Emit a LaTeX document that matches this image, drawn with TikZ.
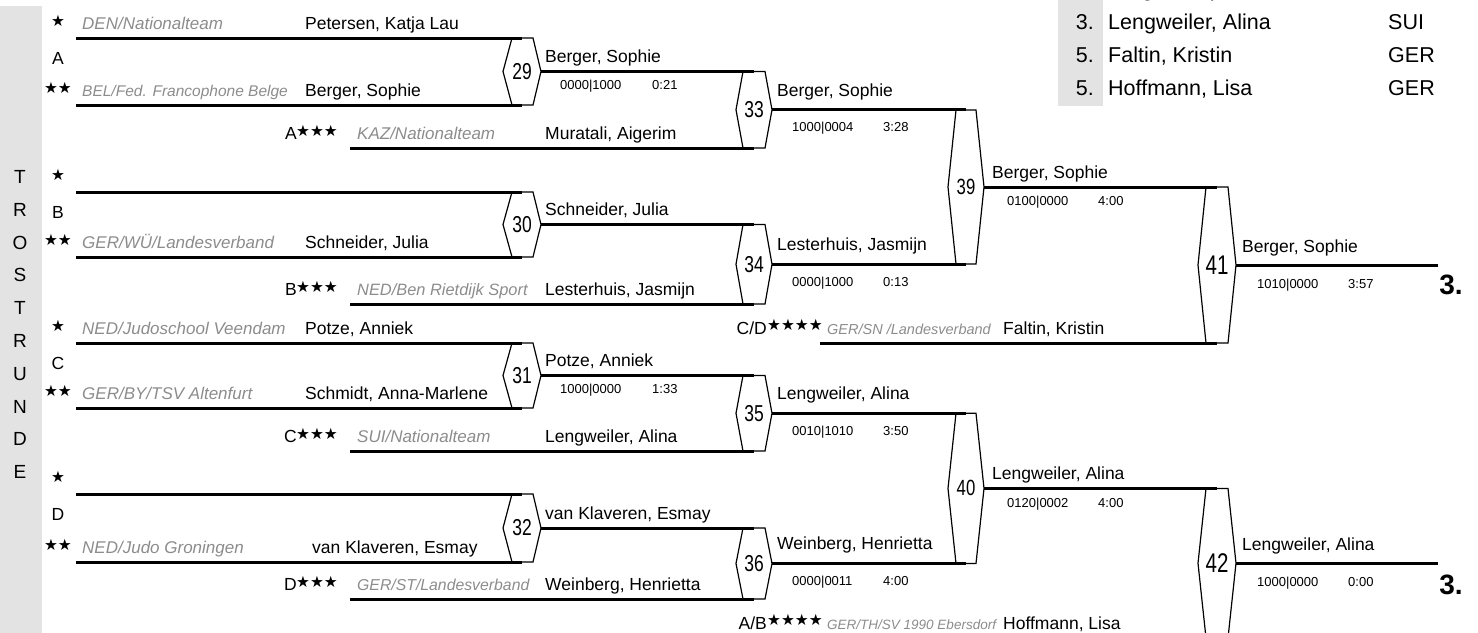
\documentclass[tikz,border=0pt]{standalone}
\usepackage{fontspec}
\setmainfont{Liberation Sans}
\newfontfamily\starfont{DejaVu Sans}
\newfontfamily\numfont[FakeStretch=0.76]{Liberation Sans}
\definecolor{clubgray}{RGB}{140,140,140}
\definecolor{bargray}{RGB}{227,227,227}
\begin{document}
\begin{tikzpicture}[x=1pt,y=-1pt,
pl/.style={line width=3pt},
hex/.style={line width=1.2pt},
pname/.style={anchor=base west,inner sep=0pt,font=\fontsize{17.5}{21}\selectfont},
club/.style={anchor=base west,inner sep=0pt,text=clubgray,font=\fontsize{17}{21}\selectfont\itshape},
score/.style={anchor=base west,inner sep=0pt,font=\fontsize{13}{15}\selectfont},
num/.style={inner sep=0pt,font=\numfont\fontsize{23}{23}\selectfont},
stars/.style={inner sep=0pt,font=\starfont\fontsize{15.5}{15.5}\selectfont},
grp/.style={inner sep=0pt,font=\fontsize{17.5}{21}\selectfont},
tab/.style={anchor=base west,inner sep=0pt,font=\fontsize{21.5}{25}\selectfont}]
\useasboundingbox (0,0) rectangle (1478,632);
\clip (0,0) rectangle (1478,632);
\fill[bargray] (0,6) rectangle (42,640);
\node(trost) at (20,324.5) [align=center,inner sep=0pt,font=\fontsize{19}{32.8}\selectfont]{T\\R\\O\\S\\T\\R\\U\\N\\D\\E};
\fill[bargray] (1058,-20) rectangle (1103,106);
\node(t0) at (1108,-3.3) [tab]{Berger, Sophie};
\node(t1p) at (1094,29.7) [tab,anchor=base east]{3.};
\node(t1) at (1108,29.7) [tab]{Lengweiler, Alina};
\node(t1n) at (1388,29.7) [tab]{SUI};
\node(t2p) at (1094,62.7) [tab,anchor=base east]{5.};
\node(t2) at (1108,62.7) [tab]{Faltin, Kristin};
\node(t2n) at (1388,62.7) [tab]{GER};
\node(t3p) at (1094,95.7) [tab,anchor=base east]{5.};
\node(t3) at (1108,95.7) [tab]{Hoffmann, Lisa};
\node(t3n) at (1388,95.7) [tab]{GER};
\coordinate(l1) at (76,38);
\coordinate(l2) at (76,105);
\coordinate(l3) at (76,192);
\coordinate(l4) at (76,257);
\coordinate(l5) at (76,343);
\coordinate(l6) at (76,408);
\coordinate(l7) at (76,494);
\coordinate(l8) at (76,562);
\coordinate(k1) at (350,148);
\coordinate(k2) at (350,304);
\coordinate(k3) at (350,451);
\coordinate(k4) at (350,599);
\coordinate(q1) at (820,343);
\coordinate(q2) at (820,638);
\coordinate(f1) at (1438,265);
\node(29) at (522,71.5) [num]{29};
\node(30) at (522,224.5) [num]{30};
\node(31) at (522,375.5) [num]{31};
\node(32) at (522,528) [num]{32};
\node(33) at (754,109.75) [num]{33};
\node(34) at (754,264.25) [num]{34};
\node(35) at (754,413.25) [num]{35};
\node(36) at (754,563.5) [num]{36};
\node(39) at (966,187) [num,font=\numfont\fontsize{22}{22}\selectfont]{39};
\node(40) at (966,488.4) [num,font=\numfont\fontsize{22}{22}\selectfont]{40};
\node(41) at (1217,265) [num,font=\numfont\fontsize{27}{27}\selectfont]{41};
\node(42) at (1217,563.2) [num,font=\numfont\fontsize{27}{27}\selectfont]{42};
\draw[pl] (l1) -- (l1 -| 29);
\draw[pl] (l2) -- (l2 -| 29);
\draw[pl] (l3) -- (l3 -| 30);
\draw[pl] (l4) -- (l4 -| 30);
\draw[pl] (l5) -- (l5 -| 31);
\draw[pl] (l6) -- (l6 -| 31);
\draw[pl] (l7) -- (l7 -| 32);
\draw[pl] (l8) -- (l8 -| 32);
\draw[pl] (k1) -- (k1 -| 33);
\draw[pl] (k2) -- (k2 -| 34);
\draw[pl] (k3) -- (k3 -| 35);
\draw[pl] (k4) -- (k4 -| 36);
\draw[pl] (q1) -- (q1 -| 41);
\draw[pl] (q2) -- (q2 -| 42);
\draw[pl] (29) ++(19,0) -- (29 -| 33);
\draw[pl] (30) ++(19,0) -- (30 -| 34);
\draw[pl] (31) ++(19,0) -- (31 -| 35);
\draw[pl] (32) ++(19,0) -- (32 -| 36);
\draw[pl] (33) ++(18,0) -- (33 -| 39);
\draw[pl] (34) ++(18,0) -- (34 -| 39);
\draw[pl] (35) ++(18,0) -- (35 -| 40);
\draw[pl] (36) ++(18,0) -- (36 -| 40);
\draw[pl] (39) ++(18,0) -- (39 -| 41);
\draw[pl] (40) ++(18,0) -- (40 -| 42);
\draw[pl] (41) ++(19,0) -- (41 -| f1);
\draw[pl] (42) ++(19,0) -- (42 -| f1);
\draw[hex] (29) ++(-10,-33.5) -- ++(21,0) -- ++(8,33.5) -- ++(-8,33.5) -- ++(-21,0) -- ++(-9,-33.5) -- cycle;
\draw[hex] (30) ++(-10,-32.5) -- ++(21,0) -- ++(8,32.5) -- ++(-8,32.5) -- ++(-21,0) -- ++(-9,-32.5) -- cycle;
\draw[hex] (31) ++(-10,-32.5) -- ++(21,0) -- ++(8,32.5) -- ++(-8,32.5) -- ++(-21,0) -- ++(-9,-32.5) -- cycle;
\draw[hex] (32) ++(-10,-34) -- ++(21,0) -- ++(8,34) -- ++(-8,34) -- ++(-21,0) -- ++(-9,-34) -- cycle;
\draw[hex] (33) ++(-11,-38.25) -- ++(22,0) -- ++(7,38.25) -- ++(-7,38.25) -- ++(-22,0) -- ++(-7,-38.25) -- cycle;
\draw[hex] (34) ++(-11,-39.75) -- ++(22,0) -- ++(7,39.75) -- ++(-7,39.75) -- ++(-22,0) -- ++(-7,-39.75) -- cycle;
\draw[hex] (35) ++(-11,-37.75) -- ++(22,0) -- ++(7,37.75) -- ++(-7,37.75) -- ++(-22,0) -- ++(-7,-37.75) -- cycle;
\draw[hex] (36) ++(-11,-35.5) -- ++(22,0) -- ++(7,35.5) -- ++(-7,35.5) -- ++(-22,0) -- ++(-7,-35.5) -- cycle;
\draw[hex] (39) ++(-10,-77) -- ++(20,0) -- ++(8,77) -- ++(-8,77) -- ++(-20,0) -- ++(-8,-77) -- cycle;
\draw[hex] (40) ++(-10,-75.1) -- ++(20,0) -- ++(8,75.1) -- ++(-8,75.1) -- ++(-20,0) -- ++(-8,-75.1) -- cycle;
\draw[hex] (41) ++(-11,-78) -- ++(22,0) -- ++(8,78) -- ++(-8,78) -- ++(-22,0) -- ++(-8,-78) -- cycle;
\draw[hex] (42) ++(-11,-74.8) -- ++(22,0) -- ++(8,74.8) -- ++(-8,74.8) -- ++(-22,0) -- ++(-8,-74.8) -- cycle;
\node(s1) at (58,21) [stars]{★};
\node(s2) at (58,88) [stars]{★★};
\node(s3) at (58,175) [stars]{★};
\node(s4) at (58,240) [stars]{★★};
\node(s5) at (58,326) [stars]{★};
\node(s6) at (58,391) [stars]{★★};
\node(s7) at (58,477) [stars]{★};
\node(s8) at (58,545) [stars]{★★};
\node(ga) at (58,58) [grp]{A};
\node(gb) at (58,212) [grp]{B};
\node(gc) at (58,363) [grp]{C};
\node(gd) at (58,514) [grp]{D};
\node(c1) at (82,29.3) [club]{DEN/Nationalteam};
\node(n1) at (305,29.3) [pname]{Petersen, Katja Lau};
\node(c2) at (82,96.3) [club,font=\fontsize{15.5}{19}\selectfont\itshape]{BEL/Fed. Francophone Belge};
\node(n2) at (305,96.3) [pname]{Berger, Sophie};
\node(c4) at (82,248.3) [club]{GER/WÜ/Landesverband};
\node(n4) at (305,248.3) [pname]{Schneider, Julia};
\node(c5) at (82,334.3) [club]{NED/Judoschool Veendam};
\node(n5) at (305,334.3) [pname]{Potze, Anniek};
\node(c6) at (82,399.3) [club]{GER/BY/TSV Altenfurt};
\node(n6) at (305,399.3) [pname]{Schmidt, Anna-Marlene};
\node(c8) at (82,553.3) [club]{NED/Judo Groningen};
\node(n8) at (312,553.3) [pname]{van Klaveren, Esmay};
\node(xa) at (297,139.3) [pname,anchor=base east]{A};
\node(ya) at (296,131) [stars,anchor=west]{★★★};
\node(ka) at (357,139.3) [club]{KAZ/Nationalteam};
\node(ma) at (545,139.3) [pname]{Muratali, Aigerim};
\node(xb) at (297,295.3) [pname,anchor=base east]{B};
\node(yb) at (296,287) [stars,anchor=west]{★★★};
\node(kb) at (357,295.3) [club,font=\fontsize{16.4}{20}\selectfont\itshape]{NED/Ben Rietdijk Sport};
\node(mb) at (545,295.3) [pname]{Lesterhuis, Jasmijn};
\node(xc) at (297,442.3) [pname,anchor=base east]{C};
\node(yc) at (296,434) [stars,anchor=west]{★★★};
\node(kc) at (357,442.3) [club]{SUI/Nationalteam};
\node(mc) at (545,442.3) [pname]{Lengweiler, Alina};
\node(xd) at (297,590.3) [pname,anchor=base east]{D};
\node(yd) at (296,582) [stars,anchor=west]{★★★};
\node(kd) at (357,590.3) [club,font=\fontsize{15.8}{19}\selectfont\itshape]{GER/ST/Landesverband};
\node(md) at (545,590.3) [pname]{Weinberg, Henrietta};
\node(xcd) at (767,334.3) [pname,anchor=base east]{C/D};
\node(ycd) at (767,325) [stars,anchor=west]{★★★★};
\node(kcd) at (827,334.3) [club,font=\fontsize{14.5}{18}\selectfont\itshape]{GER/SN /Landesverband};
\node(mcd) at (1003,334.3) [pname]{Faltin, Kristin};
\node(xab) at (767,629.3) [pname,anchor=base east]{A/B};
\node(yab) at (767,620) [stars,anchor=west]{★★★★};
\node(kab) at (827,629.3) [club,font=\fontsize{13.5}{17}\selectfont\itshape]{GER/TH/SV 1990 Ebersdorf};
\node(mab) at (1003,629.3) [pname]{Hoffmann, Lisa};
\node(w29) at (545,62.8) [pname]{Berger, Sophie};
\node(p29) at (560,89.2) [score]{0000|1000};
\node(z29) at (652,89.2) [score]{0:21};
\node(w30) at (545,215.8) [pname]{Schneider, Julia};
\node(w31) at (545,366.8) [pname]{Potze, Anniek};
\node(p31) at (560,393.2) [score]{1000|0000};
\node(z31) at (652,393.2) [score]{1:33};
\node(w32) at (545,519.3) [pname]{van Klaveren, Esmay};
\node(w33) at (777,96) [pname]{Berger, Sophie};
\node(p33) at (792,131.4) [score]{1000|0004};
\node(z33) at (883,131.4) [score]{3:28};
\node(w34) at (777,250.5) [pname]{Lesterhuis, Jasmijn};
\node(p34) at (792,286) [score]{0000|1000};
\node(z34) at (883,286) [score]{0:13};
\node(w35) at (777,399.5) [pname]{Lengweiler, Alina};
\node(p35) at (792,435) [score]{0010|1010};
\node(z35) at (883,435) [score]{3:50};
\node(w36) at (777,549.8) [pname]{Weinberg, Henrietta};
\node(p36) at (792,585.2) [score]{0000|0011};
\node(z36) at (883,585.2) [score]{4:00};
\node(w39) at (992,178.3) [pname]{Berger, Sophie};
\node(p39) at (1007,205.7) [score]{0100|0000};
\node(z39) at (1098,205.7) [score]{4:00};
\node(w40) at (992,479.7) [pname]{Lengweiler, Alina};
\node(p40) at (1007,507.1) [score]{0120|0002};
\node(z40) at (1098,507.1) [score]{4:00};
\node(w41) at (1242,252.3) [pname]{Berger, Sophie};
\node(p41) at (1257,288.7) [score]{1010|0000};
\node(z41) at (1348,288.7) [score]{3:57};
\node(w42) at (1242,550.5) [pname]{Lengweiler, Alina};
\node(p42) at (1257,586.9) [score]{1000|0000};
\node(z42) at (1348,586.9) [score]{0:00};
\node(r41) at (1451,285) [inner sep=0pt,font=\bfseries\fontsize{28}{28}\selectfont]{3.};
\node(r42) at (1451,585) [inner sep=0pt,font=\bfseries\fontsize{28}{28}\selectfont]{3.};
\end{tikzpicture}
\end{document}
